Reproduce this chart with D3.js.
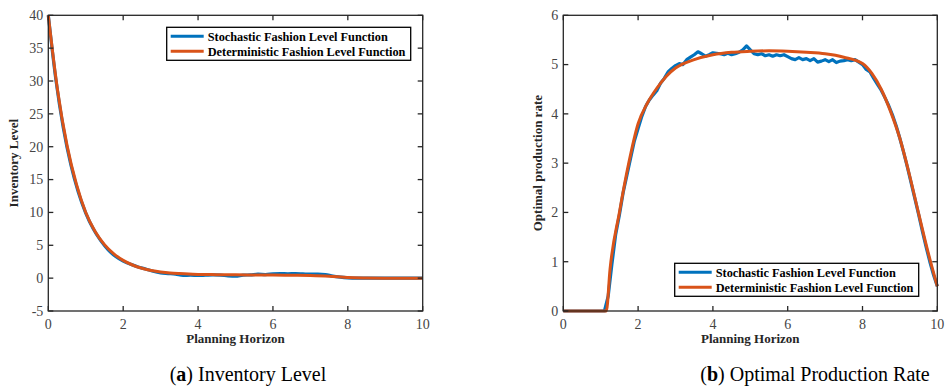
<!DOCTYPE html>
<html>
<head>
<meta charset="utf-8">
<script src="https://cdn.jsdelivr.net/npm/d3@7"></script>
<style>
body { margin: 0; background: #fff; }
svg { display: block; }
</style>
</head>
<body>
<script>
// ---- data ----
var seriesNames = ["Stochastic Fashion Level Function", "Deterministic Fashion Level Function"];
var xTicks = [0, 2, 4, 6, 8, 10];

// (a) inventory level
var invTicks = [-5, 0, 5, 10, 15, 20, 25, 30, 35, 40];
var invDetT = [0, 0.25, 0.5, 0.75, 1, 1.25, 1.5, 1.75, 2, 2.25, 2.5, 2.75, 3, 3.25, 3.5, 3.75, 4, 4.5, 5, 5.5, 6, 6.5, 7, 7.5, 8, 8.5, 9, 10];
var invDet = [40, 28.5, 20.2, 14.3, 10.0, 7.1, 5.1, 3.7, 2.7, 2.0, 1.5, 1.15, 0.95, 0.8, 0.7, 0.62, 0.57, 0.53, 0.5, 0.48, 0.46, 0.43, 0.4, 0.3, 0.08, 0.02, 0, 0];
var invStoStep = 0.2;
var invSto = [40, 30.3, 22.9, 17.3, 13.1, 9.9, 7.5, 5.7, 4.3, 3.3,
              2.6, 2.1, 1.7, 1.4, 1.05, 0.8, 0.7, 0.6, 0.4, 0.45,
              0.4, 0.45, 0.5, 0.45, 0.35, 0.3, 0.45, 0.5, 0.6, 0.55,
              0.65, 0.7, 0.65, 0.7, 0.65, 0.6, 0.62, 0.55, 0.3, 0.15,
              0.05, 0, 0, 0, 0, 0, 0, 0, 0, 0, 0];

// (b) optimal production rate
var rateTicks = [0, 1, 2, 3, 4, 5, 6];
var rateDetT = [0, 1.15, 1.25, 1.5, 1.75, 2, 2.25, 2.5, 2.75, 3, 3.5, 4, 4.5, 5, 5.5, 6, 6.5, 7, 7.5, 8, 8.25, 8.5, 8.75, 9, 9.25, 9.5, 9.75, 10];
var rateDet = [0, 0, 0.85, 2.0, 3.0, 3.8, 4.22, 4.52, 4.76, 4.93, 5.1, 5.2, 5.25, 5.27, 5.28, 5.27, 5.25, 5.22, 5.15, 5.02, 4.82, 4.5, 4.05, 3.5, 2.78, 1.98, 1.2, 0.5];
var rateStoStep = 0.1;
var rateSto = [0, 0, 0, 0, 0, 0, 0, 0, 0, 0, 0, 0,
               0.3, 0.95, 1.55, 1.95, 2.4, 2.75, 3.1, 3.45,
               3.7, 3.95, 4.15, 4.28, 4.38, 4.47, 4.62, 4.72, 4.85, 4.92,
               4.98, 5.02, 5.0, 5.1, 5.15, 5.2, 5.26, 5.22, 5.17, 5.2,
               5.24, 5.23, 5.22, 5.2, 5.23, 5.2, 5.22, 5.25, 5.3, 5.38,
               5.3, 5.22, 5.2, 5.22, 5.18, 5.2, 5.17, 5.2, 5.18, 5.2,
               5.16, 5.12, 5.1, 5.14, 5.1, 5.12, 5.08, 5.12, 5.05, 5.07,
               5.1, 5.06, 5.1, 5.04, 5.07, 5.08, 5.1, 5.08, 5.1, 5.05,
               5.0, 4.9, 4.85, 4.72, 4.6, 4.48, 4.33, 4.17, 3.98, 3.76,
               3.5, 3.22, 2.92, 2.6, 2.28, 1.96, 1.62, 1.3, 1.0, 0.73,
               0.5];

var W = 949, H = 390;
var blue = "#0072BD", orange = "#D95319", ink = "#262626", tickInk = "#444";

var svg = d3.select("body").append("svg")
    .attr("width", W)
    .attr("height", H);

function panel(opt) {
    var x = d3.scaleLinear().domain([0, 10]).range([opt.left, opt.right]);
    var y = d3.scaleLinear().domain(opt.yDomain).range([opt.bottom, opt.top]);
    var g = svg.append("g");

    var line = d3.line()
        .x(function(d) { return x(d[0]); })
        .y(function(d) { return y(d[1]); });

    var sto = opt.sto.map(function(v, i) { return [i * opt.stoStep, v]; });
    var det = opt.detT.map(function(t, i) { return [t, opt.det[i]]; });

    g.append("path").datum(sto)
        .attr("d", line.curve(opt.stoCurve))
        .attr("fill", "none")
        .attr("stroke", blue)
        .attr("stroke-width", 3.2)
        .attr("stroke-linejoin", "round");
    g.append("path").datum(det)
        .attr("d", line.curve(d3.curveMonotoneX))
        .attr("fill", "none")
        .attr("stroke", orange)
        .attr("stroke-width", 3)
        .attr("stroke-linejoin", "round");

    // matlab style box with inward ticks on all sides
    var tl = 5;
    var ax = g.append("g").attr("stroke", ink).attr("stroke-width", 1.3);
    ax.append("rect")
        .attr("x", opt.left).attr("y", opt.top)
        .attr("width", opt.right - opt.left).attr("height", opt.bottom - opt.top)
        .attr("fill", "none");
    xTicks.forEach(function(t) {
        ax.append("line").attr("x1", x(t)).attr("x2", x(t)).attr("y1", opt.bottom).attr("y2", opt.bottom - tl);
        ax.append("line").attr("x1", x(t)).attr("x2", x(t)).attr("y1", opt.top).attr("y2", opt.top + tl);
    });
    opt.yTicks.forEach(function(t) {
        ax.append("line").attr("y1", y(t)).attr("y2", y(t)).attr("x1", opt.left).attr("x2", opt.left + tl);
        ax.append("line").attr("y1", y(t)).attr("y2", y(t)).attr("x1", opt.right).attr("x2", opt.right - tl);
    });

    g.selectAll(".xt").data(xTicks).enter().append("text")
        .attr("x", function(d) { return x(d); })
        .attr("y", opt.bottom + 18)
        .attr("text-anchor", "middle")
        .attr("font-family", "Liberation Serif")
        .attr("font-size", 14)
        .attr("fill", tickInk)
        .text(function(d) { return d; });
    g.selectAll(".yt").data(opt.yTicks).enter().append("text")
        .attr("x", opt.left - 5)
        .attr("y", function(d) { return y(d); })
        .attr("dy", "0.35em")
        .attr("text-anchor", "end")
        .attr("font-family", "Liberation Serif")
        .attr("font-size", 14)
        .attr("fill", tickInk)
        .text(function(d) { return d; });

    g.append("text")
        .attr("x", (opt.left + opt.right) / 2)
        .attr("y", opt.bottom + 32)
        .attr("text-anchor", "middle")
        .attr("font-family", "Liberation Serif")
        .attr("font-weight", "bold")
        .attr("font-size", 13)
        .attr("fill", ink)
        .text("Planning Horizon");
    g.append("text")
        .attr("transform", "translate(" + opt.yLabelX + "," + (opt.top + opt.bottom) / 2 + ") rotate(-90)")
        .attr("text-anchor", "middle")
        .attr("font-family", "Liberation Serif")
        .attr("font-weight", "bold")
        .attr("font-size", 13)
        .attr("fill", ink)
        .text(opt.yLabel);

    // legend
    var lg = g.append("g").attr("transform", "translate(" + opt.legX + "," + opt.legY + ")");
    lg.append("rect")
        .attr("width", 244).attr("height", 33)
        .attr("fill", "#fff").attr("stroke", "#000").attr("stroke-width", 1.3);
    [blue, orange].forEach(function(c, i) {
        var yy = 9 + i * 15;
        lg.append("line")
            .attr("x1", 4).attr("x2", 37).attr("y1", yy).attr("y2", yy)
            .attr("stroke", c).attr("stroke-width", 3);
        lg.append("text")
            .attr("x", 41).attr("y", yy).attr("dy", "0.35em")
            .attr("font-family", "Liberation Serif")
            .attr("font-weight", "bold")
            .attr("font-size", 12.3)
            .attr("fill", "#000")
            .text(seriesNames[i]);
    });

    // caption
    var cap = svg.append("text")
        .attr("x", opt.capX).attr("y", 381)
        .attr("text-anchor", "middle")
        .attr("font-family", "Liberation Serif")
        .attr("font-size", 20)
        .attr("fill", "#000");
    cap.append("tspan").text("(");
    cap.append("tspan").attr("font-weight", "bold").text(opt.capLetter);
    cap.append("tspan").text(") " + opt.capText);
}

panel({
    left: 48.3, right: 422.7, top: 15.3, bottom: 311,
    yDomain: [-5, 40], yTicks: invTicks,
    sto: invSto, stoStep: invStoStep, stoCurve: d3.curveMonotoneX,
    detT: invDetT, det: invDet,
    yLabel: "Inventory Level", yLabelX: 18,
    legX: 166.7, legY: 27.3,
    capX: 248, capLetter: "a", capText: "Inventory Level"
});

panel({
    left: 563.3, right: 937.3, top: 15.3, bottom: 311,
    yDomain: [0, 6], yTicks: rateTicks,
    sto: rateSto, stoStep: rateStoStep, stoCurve: d3.curveLinear,
    detT: rateDetT, det: rateDet,
    yLabel: "Optimal production rate", yLabelX: 541.7,
    legX: 674.7, legY: 263.3,
    capX: 815, capLetter: "b", capText: "Optimal Production Rate"
});
</script>
</body>
</html>
